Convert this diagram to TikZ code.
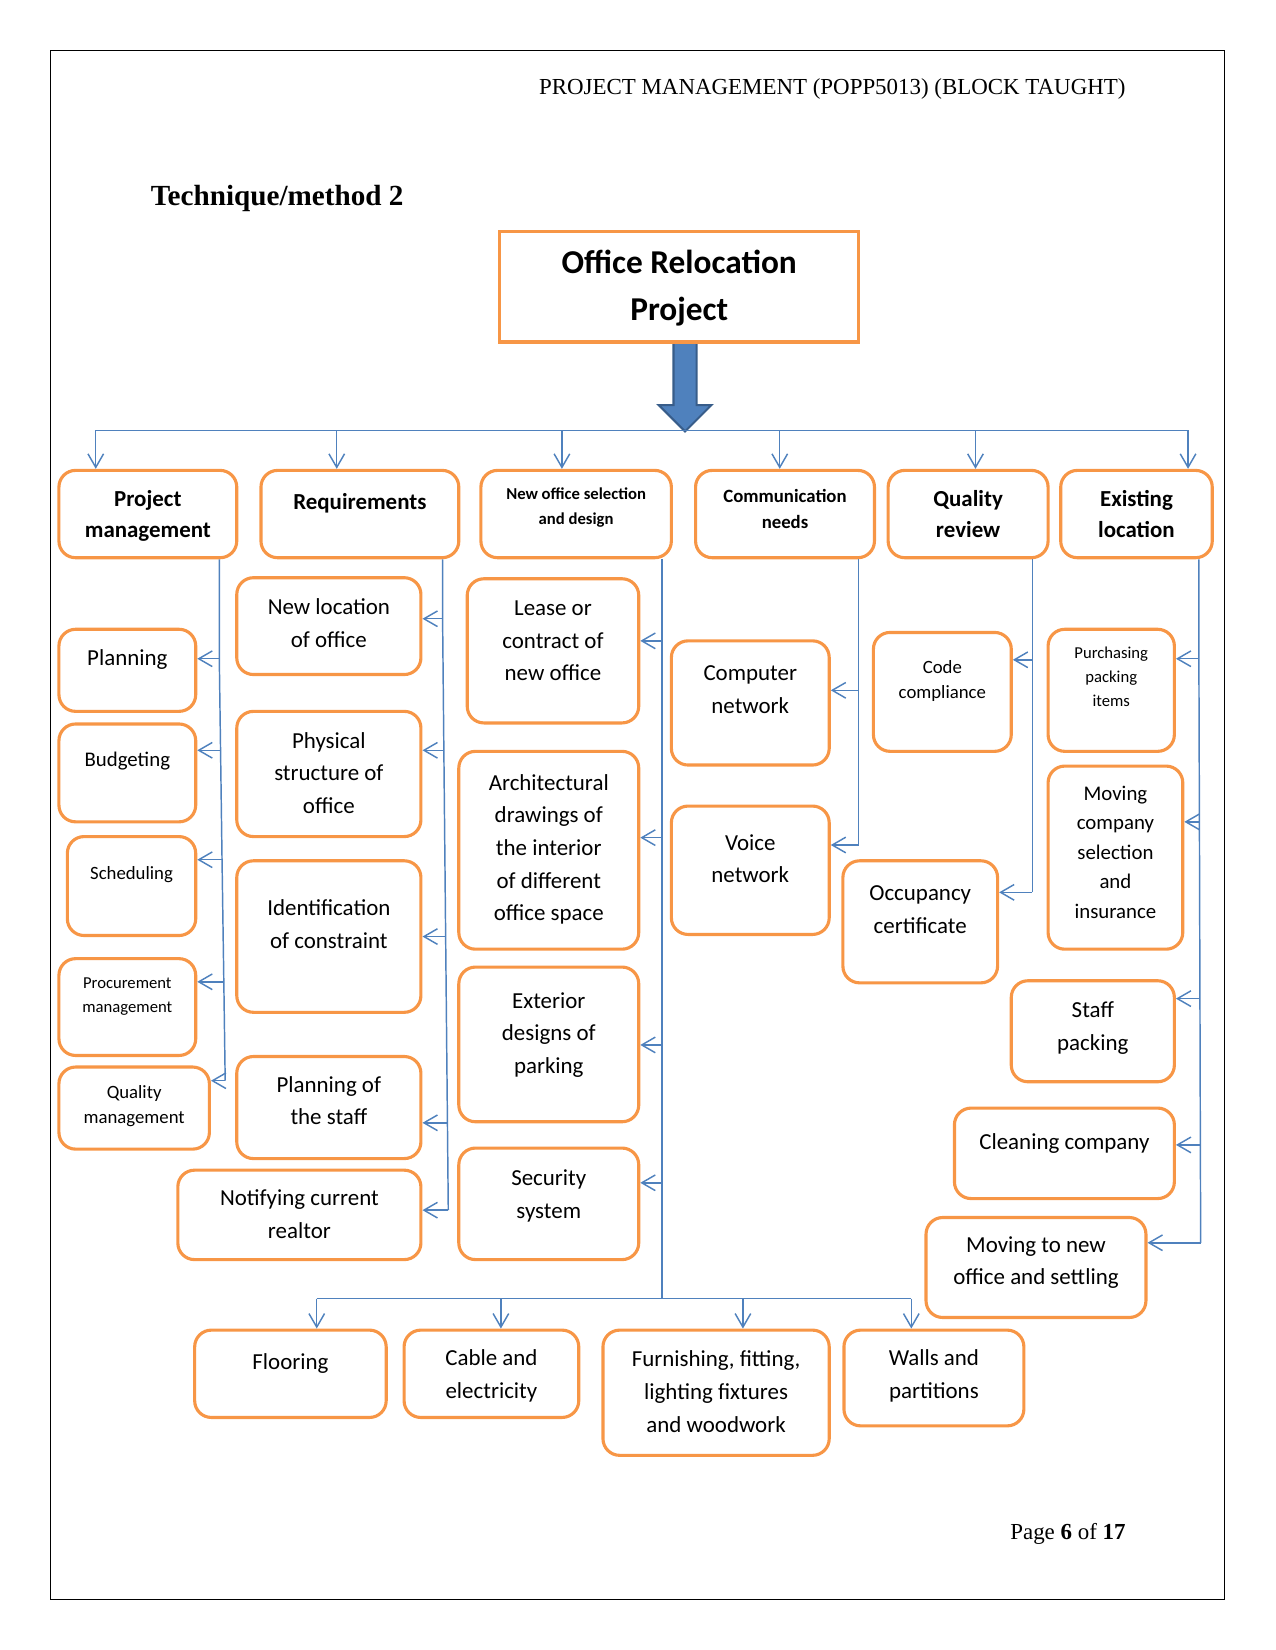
\documentclass[tikz,border=0pt]{standalone}
\usepackage{fontspec}
\setmainfont{Carlito}
\newfontfamily\serif{Liberation Serif}
\usetikzlibrary{arrows.meta,fit}
\definecolor{relorange}{HTML}{F79646}
\definecolor{relblue}{HTML}{4F81BD}
\definecolor{reldark}{HTML}{385D8A}

\tikzset{
  box/.style={draw=relorange, line width=1.5pt, rounded corners=8pt, inner sep=0pt, fill=white},
  link/.style={draw=relblue, line width=0.7pt},
  tip/.style={link, -{Straight Barb[length=6.5pt,width=7.5pt]}},
  txt/.style={align=center, anchor=base, inner sep=0pt},
  r8/.style={txt, font=\fontsize{8}{11.4}\selectfont},
  r9/.style={txt, font=\fontsize{9}{12.1}\selectfont},
  r10/.style={txt, font=\fontsize{10}{14.1}\selectfont},
  r11/.style={txt, font=\fontsize{11}{15.65}\selectfont},
  b8/.style={txt, font=\bfseries\fontsize{8}{11.6}\selectfont},
  b9/.style={txt, font=\bfseries\fontsize{9}{12.6}\selectfont},
  b11/.style={txt, font=\bfseries\fontsize{11}{15.2}\selectfont},
  b16/.style={txt, font=\bfseries\fontsize{16}{22.7}\selectfont}
}

\begin{document}
\begin{tikzpicture}[x=0.505pt, y=-0.505pt]
  \useasboundingbox (0,0) rectangle (1212,1568);
  \draw[line width=0.5pt] (48,48) rectangle (1164,1520);

  % page header, title and footer
  \node[anchor=base east, inner sep=0pt, font=\serif\fontsize{11}{13}\selectfont] (hdr) at (1070,90)
    {PROJECT MANAGEMENT (POPP5013) (BLOCK TAUGHT)};
  \node[anchor=base west, inner sep=0pt, font=\serif\bfseries\fontsize{14}{16}\selectfont] (ttl) at (143,195)
    {Technique/method 2};
  \node[anchor=base east, inner sep=0pt, font=\serif\fontsize{11}{13}\selectfont] (pg) at (1070,1463)
    {Page \textbf{6} of \textbf{17}};

  % big block arrow under the project box
  \filldraw[fill=relblue, draw=reldark, line width=1pt]
    (640,325) -- (640,385) -- (626,385) -- (651,410) -- (676,385) -- (662,385) -- (662,325) -- cycle;
  \node[draw=relorange, line width=1.5pt, fill=white, inner sep=0pt, fit={(475,220) (816,325)}] (main) {};
  \node[b16] (main-t) at (645.5,304.5) {Office Relocation\\Project};

  % all boxes: name / corners / baseline of last line / font / text
  \foreach \n/\xa/\ya/\xb/\yb/\ty/\fnt/\txt in {%
      pm/56/447/225/530/511/b11/{Project\\management},
      req/248/447/436/530/484/b11/{Requirements},
      nos/457/447/638/530/498/b8/{New office selection\\and design},
      comm/661/447/831/530/502/b9/{Communication\\needs},
      qr/844/447/996/530/511/b11/{Quality\\review},
      el/1008/447/1152/530/511/b11/{Existing\\location},
      plan/56/598/186/676/632/r11/{Planning},
      budg/56/688/186/781/728.5/r10/{Budgeting},
      sched/64/795/186/889/836/r9/{Scheduling},
      proc/56/911/186/1003/962/r8/{Procurement\\management},
      qm/56/1014/199/1092/1068/r9/{Quality\\management},
      newloc/225/549/400/641/615/r11/{New location\\of office},
      phys/225/676/400/795/773/r11/{Physical\\structure of\\office},
      ident/225/818/400/962/901/r11/{Identification\\of constraint},
      staff/225/1004/400/1101/1069/r11/{Planning of\\the staff},
      notify/169/1112/400/1197/1177/r11/{Notifying current\\realtor},
      lease/444/550/607/687/647/r11/{Lease or\\contract of\\new office},
      arch/436/714/607/902/875/r11/{Architectural\\drawings of\\the interior\\of different\\office space},
      ext/436/919/607/1066/1020/r11/{Exterior\\designs of\\parking},
      sec/436/1091/607/1197/1158/r11/{Security\\system},
      comp/638/609/788/727/678/r11/{Computer\\network},
      voice/638/766/788/888/839/r11/{Voice\\network},
      code/830/601/961/714/664/r9/{Code\\compliance},
      occ/801/818/948/934/887/r11/{Occupancy\\certificate},
      purch/996/598/1116/714/671/r8/{Purchasing\\packing\\items},
      movco/996/728/1124/902/872.5/r10/{Moving\\company\\selection\\and\\insurance},
      spack/961/932/1116/1028/998/r11/{Staff\\packing},
      clean/907/1053/1116/1139/1092/r11/{Cleaning company},
      movnew/880/1157/1089/1252/1221/r11/{Moving to new\\office and settling},
      floor/185/1264/367/1347/1301/r11/{Flooring},
      cable/384/1264/550/1347/1329/r11/{Cable and\\electricity},
      furn/573/1264/788/1383/1361/r11/{Furnishing, fitting,\\lighting fixtures\\and woodwork},
      walls/802/1264/973/1355/1329/r11/{Walls and\\partitions}}
  {
    \pgfmathsetmacro\cx{(\xa+\xb)/2}
    \node[box, fit={(\xa,\ya) (\xb,\yb)}] (\n) {};
    \node[\fnt] (\n-t) at (\cx,\ty) {\txt};
  }

  % top distribution line
  \foreach \c/\x in {pm/91, req/320, nos/534, comm/741, qr/927, el/1129}
  {
    \coordinate (\c-in) at (\x,409);
    \draw[tip] (\c-in) -- (\c.north -| \c-in);
  }
  \draw[link] (pm-in) -- (el-in);

  % side branches
  \foreach \c/\x/\y in {%
      plan/208.4/626, budg/209.6/713, sched/211/817, proc/212.7/933, qm/214/1027,
      newloc/420.6/588, phys/421.8/713, ident/423.5/890, staff/425.2/1067, notify/426/1150,
      lease/629/609, arch/629/796, ext/629/993, sec/629/1124,
      comp/816/656, voice/816/803,
      code/981/627, occ/981/848,
      purch/1139.3/626, movco/1139.8/781, spack/1140.3/949, clean/1140.7/1088, movnew/1141/1181}
  {
    \coordinate (\c-j) at (\x,\y);
    \draw[tip] (\c-j) -- (\c.east |- \c-j);
  }

  % bottom row
  \foreach \c/\x in {floor/301, cable/476, furn/706, walls/866}
  {
    \coordinate (\c-j) at (\x,1234);
    \draw[tip] (\c-j) -- (\c.north -| \c-j);
  }
  \draw[link] (floor-j) -- (walls-j);

  % trunks
  \draw[link] (pm.south -| plan-j) -- (plan-j) -- (budg-j) -- (sched-j) -- (proc-j) -- (qm-j);
  \draw[link] (req.south -| newloc-j) -- (newloc-j) -- (phys-j) -- (ident-j) -- (staff-j) -- (notify-j);
  \draw[link] (nos.south -| lease-j) -- (lease-j |- floor-j);
  \draw[link] (comm.south -| comp-j) -- (voice-j);
  \draw[link] (qr.south -| code-j) -- (occ-j);
  \draw[link] (el.south -| purch-j) -- (purch-j) -- (movco-j) -- (spack-j) -- (clean-j) -- (movnew-j);
\end{tikzpicture}
\end{document}
